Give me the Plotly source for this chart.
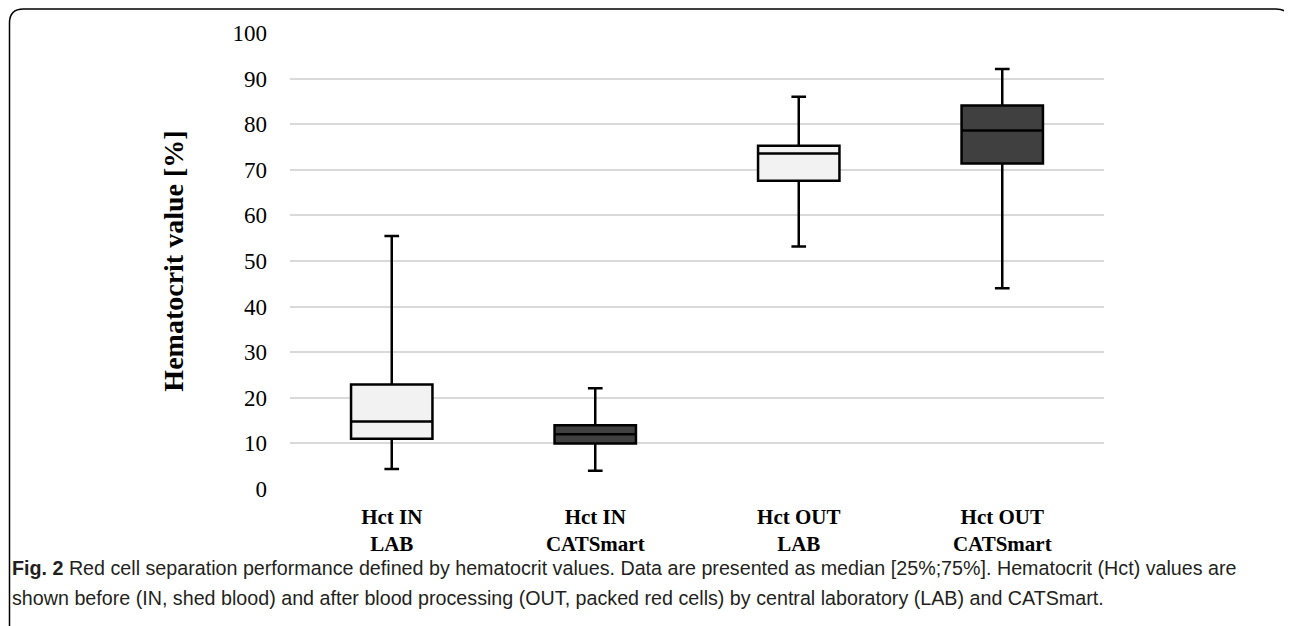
import plotly.graph_objects as go

categories = ["Hct IN<br>LAB", "Hct IN<br>CATSmart", "Hct OUT<br>LAB", "Hct OUT<br>CATSmart"]
lab_cats = ["Hct IN<br>LAB", "Hct OUT<br>LAB"]
lab_lower = [4.4, 53.2]
lab_q1 = [11.0, 67.6]
lab_median = [14.8, 73.6]
lab_q3 = [22.9, 75.3]
lab_upper = [55.5, 86.0]

cat_cats = ["Hct IN<br>CATSmart", "Hct OUT<br>CATSmart"]
cat_lower = [4.0, 44.0]
cat_q1 = [10.0, 71.4]
cat_median = [12.0, 78.6]
cat_q3 = [14.0, 84.1]
cat_upper = [22.1, 92.1]

y_ticks = list(range(0, 101, 10))

# page has an 8px body margin; figure coordinates are screen - 8
W, H = 1284, 618
L, R, T, B = 282, 1096, 25, 481.5

fig = go.Figure()
fig.add_trace(go.Box(x=lab_cats, q1=lab_q1, median=lab_median, q3=lab_q3,
                     lowerfence=lab_lower, upperfence=lab_upper,
                     fillcolor="#f2f2f2", line=dict(color="#000000", width=2.5),
                     width=0.4, whiskerwidth=0.18, boxpoints=False, hoverinfo="skip",
                     showlegend=False))
fig.add_trace(go.Box(x=cat_cats, q1=cat_q1, median=cat_median, q3=cat_q3,
                     lowerfence=cat_lower, upperfence=cat_upper,
                     fillcolor="#404040", line=dict(color="#000000", width=2.5),
                     width=0.4, whiskerwidth=0.18, boxpoints=False, hoverinfo="skip",
                     showlegend=False))

def px(x):
    return (x - L) / (R - L)

def py(y):
    return (B - y) / (B - T)

# rounded frame
x0, x1 = px(1.5), px(1282)
y0, y1 = py(1), py(640)
rx = 14 / (R - L)
ry = 14 / (B - T)
path = (f"M {x0},{y1} L {x0},{y0 - ry} Q {x0},{y0} {x0 + rx},{y0} "
        f"L {x1 - rx},{y0} Q {x1},{y0} {x1},{y0 - ry} L {x1},{y1}")
fig.add_shape(type="path", path=path, xref="paper", yref="paper",
              line=dict(color="#000000", width=1.5), layer="above")

cap_font = dict(family="Liberation Sans, sans-serif", size=19.7, color="#231f20")
fig.add_annotation(xref="paper", yref="paper", x=px(2), y=py(561), xanchor="left", yanchor="middle",
                   showarrow=False, font=cap_font, align="left",
                   text="<b>Fig. 2</b> Red cell separation performance defined by hematocrit values. Data are presented as median [25%;75%]. Hematocrit (Hct) values are")
fig.add_annotation(xref="paper", yref="paper", x=px(2), y=py(591), xanchor="left", yanchor="middle",
                   showarrow=False, font=cap_font, align="left",
                   text="shown before (IN, shed blood) and after blood processing (OUT, packed red cells) by central laboratory (LAB) and CATSmart.")

fig.update_layout(
    width=W, height=H,
    margin=dict(l=L, r=W - R, t=T, b=H - B, pad=0),
    paper_bgcolor="white", plot_bgcolor="white",
    boxmode="overlay",
    font=dict(family="Liberation Serif, Times New Roman, serif", color="#000000"),
    xaxis=dict(categoryorder="array", categoryarray=categories, range=[-0.5, 3.5],
               showgrid=False, showline=False, zeroline=False, ticks="",
               tickfont=dict(size=21, family="Liberation Serif", color="#000000", weight="bold"),
               ticklabelstandoff=13),
    yaxis=dict(range=[0, 100], tickvals=y_ticks, showgrid=True, gridcolor="#d9d9d9", gridwidth=1.5,
               zeroline=False, showline=False, ticks="",
               tickfont=dict(size=23, family="Liberation Serif", color="#000000"),
               ticklabelstandoff=22,
               title=dict(text="<b>Hematocrit value [%]</b>", font=dict(size=28, family="Liberation Serif"),
                          standoff=40)),
)

fig.write_html("out.html")
